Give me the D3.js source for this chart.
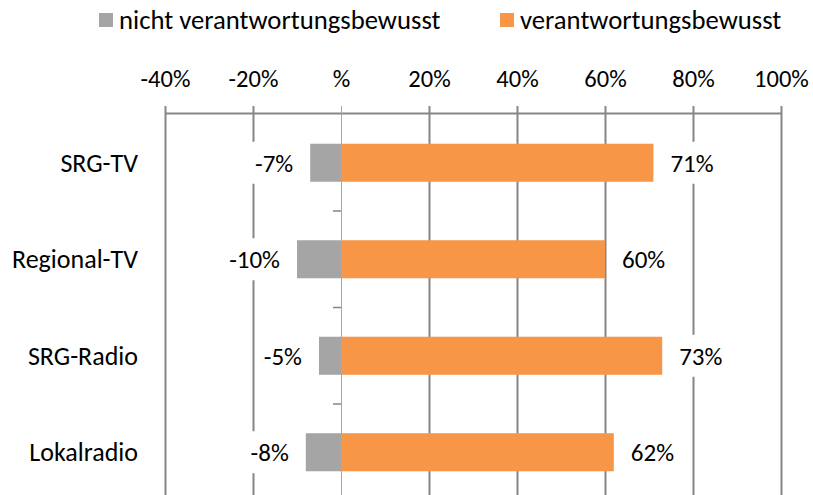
<!DOCTYPE html>
<html>
<head>
<meta charset="utf-8">
<script src="https://cdn.jsdelivr.net/npm/d3@7"></script>
<style>
  body { margin: 0; background: #fff; }
  text { font-family: Carlito, Calibri, Lato, sans-serif; fill: #000; }
</style>
</head>
<body>
<svg id="chart" width="813" height="495"></svg>
<script>
const categories = ["SRG-TV", "Regional-TV", "SRG-Radio", "Lokalradio"];
const nichtValues = [-7, -10, -5, -8];
const verantValues = [71, 60, 73, 62];
const tickValues = [-40, -20, 0, 20, 40, 60, 80, 100];
const tickLabels = ["-40%", "-20%", "%", "20%", "40%", "60%", "80%", "100%"];
const seriesNames = ["nicht verantwortungsbewusst", "verantwortungsbewusst"];
const colors = ["#a5a5a5", "#f79646"];

const svg = d3.select("#chart");
const axisY = 113;

const x = d3.scaleLinear().domain([-40, 100]).range([165, 781]);
const y = d3.scaleBand().domain(categories).range([114.5, 500.5])
  .paddingInner(0.606).paddingOuter(0.303);

// top axis + gridlines
const ax = svg.append("g")
  .attr("transform", `translate(0,${axisY})`)
  .call(d3.axisTop(x)
    .tickValues(tickValues)
    .tickFormat((d, i) => tickLabels[i])
    .tickSizeInner(-(495 - axisY + 10))
    .tickSizeOuter(0)
    .tickPadding(26));
ax.select(".domain").attr("stroke", "#868686").attr("stroke-width", 2);
ax.selectAll(".tick line")
  .attr("y1", -7)
  .attr("stroke", d => d === 0 ? "#a6a6a6" : "#868686")
  .attr("stroke-width", d => d === 0 ? 1 : 2);
ax.selectAll(".tick text")
  .style("font-size", "24.5px")
  .style("font-family", "Carlito, Calibri, Lato, sans-serif")
  .attr("fill", "#000");

// small category ticks on the zero line
const step = y.step();
svg.selectAll(".cattick")
  .data(categories.slice(0, -1))
  .enter().append("line")
  .attr("x1", x(0) - 8).attr("x2", x(0))
  .attr("y1", d => y(d) + y.bandwidth() + (step - y.bandwidth()) / 2)
  .attr("y2", d => y(d) + y.bandwidth() + (step - y.bandwidth()) / 2)
  .attr("stroke", "#868686").attr("stroke-width", 1.5);

// bars
const rows = categories.map((c, i) => ({ cat: c, neg: nichtValues[i], pos: verantValues[i] }));
svg.selectAll(".neg").data(rows).enter().append("rect")
  .attr("x", d => x(d.neg)).attr("width", d => x(0) - x(d.neg))
  .attr("y", d => y(d.cat)).attr("height", y.bandwidth())
  .attr("fill", colors[0]);
svg.selectAll(".pos").data(rows).enter().append("rect")
  .attr("x", x(0)).attr("width", d => x(d.pos) - x(0))
  .attr("y", d => y(d.cat)).attr("height", y.bandwidth())
  .attr("fill", colors[1]);

// value labels with white boxes
function label(xpos, ypos, txt, anchor) {
  const g = svg.append("g");
  const t = g.append("text")
    .attr("x", xpos).attr("y", ypos).attr("dy", "0.35em")
    .attr("text-anchor", anchor)
    .style("font-size", "25px")
    .text(txt);
  const b = t.node().getBBox();
  g.insert("rect", "text")
    .attr("x", b.x - 6).attr("y", ypos - 21)
    .attr("width", b.width + 12).attr("height", 42)
    .attr("fill", "#fff");
}
rows.forEach(d => {
  const cy = y(d.cat) + y.bandwidth() / 2;
  label(x(d.neg) - 17, cy, d.neg + "%", "end");
  label(x(d.pos) + 17, cy, d.pos + "%", "start");
});

// category labels
svg.selectAll(".catlabel").data(categories).enter().append("text")
  .attr("x", 138)
  .attr("y", d => y(d) + y.bandwidth() / 2)
  .attr("dy", "0.35em")
  .attr("text-anchor", "end")
  .style("font-size", "26px")
  .text(d => d);

// legend
const legX = [99, 500];
seriesNames.forEach((n, i) => {
  svg.append("rect").attr("x", legX[i]).attr("y", 13).attr("width", 14).attr("height", 14)
    .attr("fill", colors[i]);
  svg.append("text").attr("x", legX[i] + 20).attr("y", 20).attr("dy", "0.35em")
    .style("font-size", "26.7px").text(n);
});
</script>
</body>
</html>
